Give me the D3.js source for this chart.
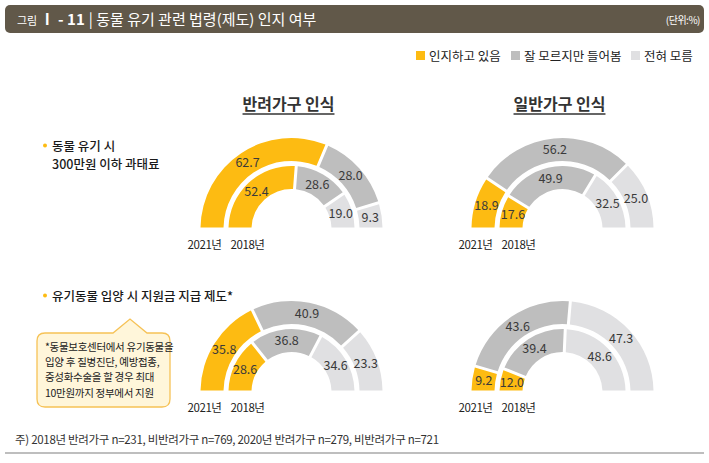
<!DOCTYPE html>
<html>
<head>
<meta charset="utf-8">
<script src="https://cdn.jsdelivr.net/npm/d3@7"></script>
<style>
  body { margin: 0; background: #fff; }
  svg { display: block; font-family: "Noto Sans CJK KR", "Noto Sans", sans-serif; }
</style>
</head>
<body>
<svg id="chart" width="709" height="463"></svg>
<script>
// categories + series
const categories = ["인지하고 있음", "잘 모르지만 들어봄", "전혀 모름"];
const groups = ["반려가구 인식", "일반가구 인식"];
const years = ["2021년", "2018년"];
const items = [["동물 유기 시", "300만원 이하 과태료"], ["유기동물 입양 시 지원금 지급 제도*"]];

const penaltyPet2021 = [62.7, 28.0, 9.3];
const penaltyPet2018 = [52.4, 28.6, 19.0];
const penaltyGen2021 = [18.9, 56.2, 25.0];
const penaltyGen2018 = [17.6, 49.9, 32.5];
const adoptPet2021 = [35.8, 40.9, 23.3];
const adoptPet2018 = [28.6, 36.8, 34.6];
const adoptGen2021 = [9.2, 43.6, 47.3];
const adoptGen2018 = [12.0, 39.4, 48.6];

const noteLines = ["*동물보호센터에서 유기동물을", "입양 후 질병진단, 예방접종,", "중성화수술을 할 경우 최대", "10만원까지 정부에서 지원"];
const footnote = "주) 2018년 반려가구 n=231, 비반려가구 n=769, 2020년 반려가구 n=279, 비반려가구 n=721";

const colors = ["#FDBB12", "#BEBEBE", "#E0E0E2"];
const color = d3.scaleOrdinal().domain(categories).range(colors);

const svg = d3.select("#chart");

// header bar
svg.append("rect")
  .attr("x", 5).attr("y", 5).attr("width", 699).attr("height", 28)
  .attr("rx", 5).attr("fill", "#615849");
const head = svg.append("text").attr("x", 17).attr("y", 25).attr("fill", "#fff");
head.append("tspan").attr("font-size", 11).text("그림 ");
head.append("tspan").attr("font-size", 15).attr("font-weight", "bold").text("Ⅰ - 11");
head.append("tspan").attr("font-size", 15).attr("dx", 4).text("| 동물 유기 관련 법령(제도) 인지 여부");
svg.append("text")
  .attr("x", 700).attr("y", 24).attr("text-anchor", "end")
  .attr("fill", "#fff").attr("font-size", 10).attr("letter-spacing", -0.5)
  .text("(단위:%)");

// legend
const legendX = [416, 511, 631];
const legend = svg.selectAll(".legend").data(categories).enter().append("g")
  .attr("class", "legend")
  .attr("transform", (d, i) => `translate(${legendX[i]},51)`);
legend.append("rect").attr("width", 9).attr("height", 9).attr("fill", d => color(d));
legend.append("text").attr("x", 13).attr("y", 9.5)
  .attr("font-size", 12.5).attr("fill", "#222").text(d => d);

// group titles
const centersX = [291.5, 562.5];
const baseY = [229, 392];
groups.forEach((g, i) => {
  const t = svg.append("text")
    .attr("x", centersX[i] - 3).attr("y", 110)
    .attr("text-anchor", "middle").attr("font-size", 16).attr("font-weight", "bold")
    .attr("fill", "#333").text(g);
  const bb = t.node().getBBox();
  svg.append("line")
    .attr("x1", bb.x).attr("x2", bb.x + bb.width)
    .attr("y1", 114).attr("y2", 114)
    .attr("stroke", "#333").attr("stroke-width", 1.3);
});

// row labels
const itemY = [146, 296];
items.forEach((lines, i) => {
  svg.append("circle").attr("cx", 45).attr("cy", itemY[i] - 0.5).attr("r", 2).attr("fill", "#FDBB12");
  lines.forEach((l, j) => {
    svg.append("text")
      .attr("x", 52).attr("y", itemY[i] + 5 + j * 17.5)
      .attr("font-size", 12.5).attr("font-weight", 500).attr("fill", "#1a1a1a")
      .text(l);
  });
});

// callout
const callout = d3.path();
callout.moveTo(45, 333);
callout.lineTo(113, 333);
callout.lineTo(130, 319);
callout.lineTo(147, 333);
callout.lineTo(162, 333);
callout.quadraticCurveTo(170, 333, 170, 341);
callout.lineTo(170, 399);
callout.quadraticCurveTo(170, 407, 162, 407);
callout.lineTo(45, 407);
callout.quadraticCurveTo(37, 407, 37, 399);
callout.lineTo(37, 341);
callout.quadraticCurveTo(37, 333, 45, 333);
callout.closePath();
svg.append("path").attr("d", callout.toString())
  .attr("fill", "#FFF6DA").attr("stroke", "#F6C256").attr("stroke-width", 1.3);
noteLines.forEach((l, j) => {
  svg.append("text")
    .attr("x", 45).attr("y", 351 + j * 15.2)
    .attr("font-size", 10.5).attr("fill", "#222").attr("letter-spacing", -0.3)
    .text(l);
});

// donuts
const rings = [
  { r0: 68, r1: 91 },
  { r0: 40, r1: 63 }
];
const charts = [
  { cx: centersX[0], cy: baseY[0], series: [penaltyPet2021, penaltyPet2018] },
  { cx: centersX[1], cy: baseY[0], series: [penaltyGen2021, penaltyGen2018] },
  { cx: centersX[0], cy: baseY[1], series: [adoptPet2021, adoptPet2018] },
  { cx: centersX[1], cy: baseY[1], series: [adoptGen2021, adoptGen2018] }
];
const pie = d3.pie().value(d => d.v).sort(null)
  .startAngle(-Math.PI / 2).endAngle(Math.PI / 2);

charts.forEach(c => {
  const g = svg.append("g").attr("transform", `translate(${c.cx},${c.cy})`);
  c.series.forEach((vals, k) => {
    const arc = d3.arc()
      .innerRadius(rings[k].r0).outerRadius(rings[k].r1)
      .padAngle(3 / rings[k].r1).padRadius(rings[k].r1);
    const labelArc = d3.arc().innerRadius(rings[k].r0).outerRadius(rings[k].r1);
    const data = pie(vals.map((v, i) => ({ cat: categories[i], v })));
    g.selectAll(null).data(data).enter().append("path")
      .attr("d", arc).attr("fill", d => color(d.data.cat));
    g.selectAll(null).data(data).enter().append("text")
      .attr("transform", d => `translate(${labelArc.centroid(d)})`)
      .attr("text-anchor", "middle").attr("dy", "0.35em")
      .attr("font-size", 12.5).attr("fill", "#3a3a3a")
      .text(d => d3.format(".1f")(d.data.v));
  });
  g.append("text").attr("x", -87).attr("y", 20).attr("text-anchor", "middle")
    .attr("font-size", 11.5).attr("letter-spacing", -0.4).attr("fill", "#222").text(years[0]);
  g.append("text").attr("x", -44).attr("y", 20).attr("text-anchor", "middle")
    .attr("font-size", 11.5).attr("letter-spacing", -0.4).attr("fill", "#222").text(years[1]);
});

// footnote
svg.append("text").attr("x", 15).attr("y", 444)
  .attr("font-size", 11.5).attr("fill", "#333").attr("letter-spacing", -0.3)
  .text(footnote);
svg.append("line").attr("x1", 5).attr("x2", 704).attr("y1", 453).attr("y2", 453)
  .attr("stroke", "#A9A9A9").attr("stroke-width", 1.5);
</script>
</body>
</html>
